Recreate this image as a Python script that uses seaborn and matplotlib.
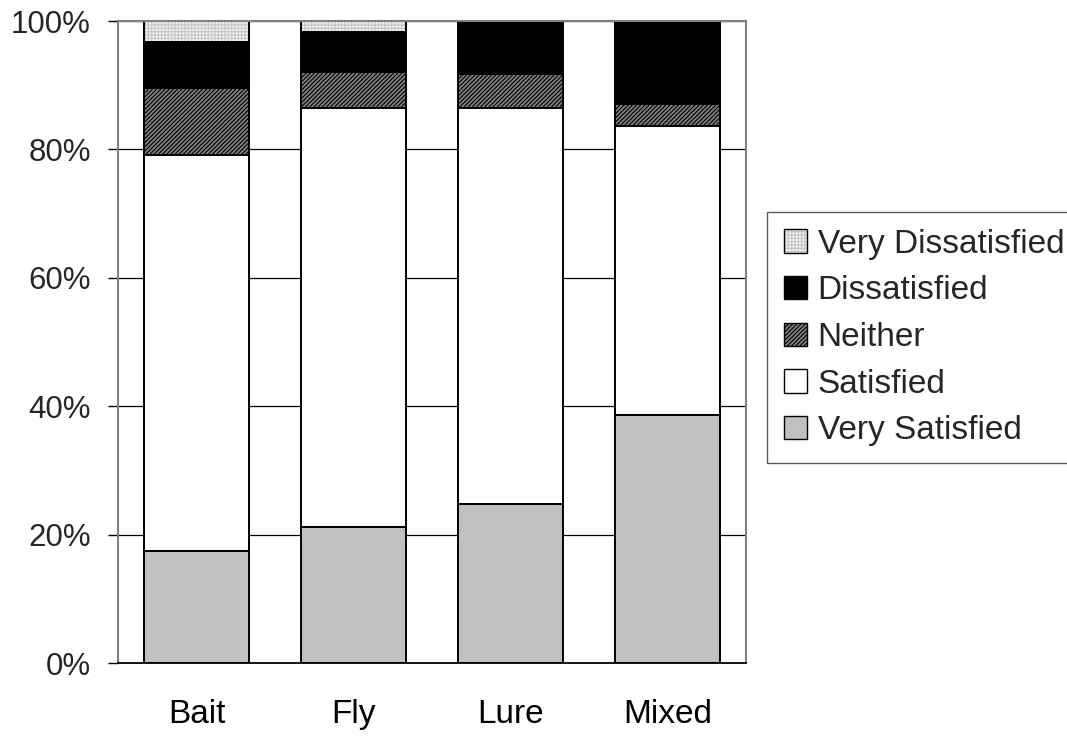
import numpy as np
import matplotlib
matplotlib.use("Agg")
import matplotlib.pyplot as plt
from matplotlib.patches import Patch
from matplotlib.legend_handler import HandlerTuple
import seaborn as sns

# Satisfaction by fishing method (percent of respondents)
categories = ["Bait", "Fly", "Lure", "Mixed"]
very_satisfied = [17.5, 21.2, 24.7, 38.7]
satisfied = [61.6, 65.3, 61.8, 45.0]
neither = [10.5, 5.5, 5.3, 3.4]
dissatisfied = [7.1, 6.3, 8.2, 12.9]
very_dissatisfied = [3.3, 1.7, 0.0, 0.0]

series_names = ["Very Satisfied", "Satisfied", "Neither", "Dissatisfied", "Very Dissatisfied"]
series_values = [very_satisfied, satisfied, neither, dissatisfied, very_dissatisfied]
y_ticks = [0, 20, 40, 60, 80, 100]
y_tick_labels = ["0%", "20%", "40%", "60%", "80%", "100%"]

# fill colour, hatch pattern, hatch colour per series
styles = {
    "Very Satisfied": ("#c0c0c0", None, None),
    "Satisfied": ("#ffffff", None, None),
    "Neither": ("#808080", "////////", "#000000"),
    "Dissatisfied": ("#000000", None, None),
    "Very Dissatisfied": ("#f4f4f4", "+++++", "#c4c4c4"),
}

sns.set_theme(style="white")
plt.rcParams["font.family"] = ["Liberation Sans", "DejaVu Sans"]
plt.rcParams["hatch.linewidth"] = 0.8

fig = plt.figure(figsize=(10.67, 7.37), dpi=100)
ax = fig.add_axes([0.1106, 0.1004, 0.5884, 0.8711])

bar_w = 0.667
bottom = np.zeros(len(categories))
for name, vals in zip(series_names, series_values):
    face, hatch, hcol = styles[name]
    vals = np.asarray(vals, dtype=float)
    # filled body (with hatch where used), then a black outline on top
    sns.barplot(x=categories, y=vals, bottom=bottom, width=bar_w, color=face,
                saturation=1, errorbar=None, ax=ax,
                hatch=hatch, edgecolor=hcol if hatch else "none",
                linewidth=0, zorder=2)
    sns.barplot(x=categories, y=vals, bottom=bottom, width=bar_w, color="black",
                fill=False, saturation=1, errorbar=None, ax=ax,
                linewidth=1.4, zorder=3)
    bottom = bottom + vals

ax.set_xlim(-0.5, len(categories) - 0.5)
ax.set_ylim(0, 100)
ax.set_yticks(y_ticks)
ax.set_yticklabels(y_tick_labels)
ax.yaxis.grid(True, color="black", linewidth=0.9)
ax.xaxis.grid(False)
ax.set_axisbelow(True)

ax.set_xticks(np.arange(-0.5, len(categories), 1.0), minor=True)
ax.tick_params(axis="x", which="major", length=0, pad=26, labelsize=24, colors="black")
ax.tick_params(axis="x", which="minor", length=7.5, width=1.2, color="#808080", direction="out")
ax.tick_params(axis="y", which="major", length=7.5, width=1.0, color="black",
               direction="out", left=True, pad=12, labelsize=22.5)
ax.set_xlabel("")
ax.set_ylabel("")

for side in ["left", "top", "right"]:
    ax.spines[side].set_color("#808080")
    ax.spines[side].set_linewidth(1.5)
ax.spines["bottom"].set_color("black")
ax.spines["bottom"].set_linewidth(1.3)
for s in ax.spines.values():
    s.set_zorder(4)

handles = []
for name in reversed(series_names):
    face, hatch, hcol = styles[name]
    body = Patch(facecolor=face, hatch=hatch, edgecolor=hcol if hatch else "none", linewidth=0)
    outline = Patch(facecolor="none", edgecolor="black", linewidth=1.0)
    handles.append((body, outline))

leg = fig.legend(handles, list(reversed(series_names)), loc="upper left",
                 bbox_to_anchor=(767 / 1067, 1 - 212 / 737), bbox_transform=fig.transFigure,
                 fontsize=24, frameon=True, fancybox=False, shadow=False,
                 handlelength=0.69, handleheight=0.69, handletextpad=0.33,
                 labelspacing=0.47, borderpad=0.5, borderaxespad=0,
                 handler_map={tuple: HandlerTuple(ndivide=1, pad=0)})
leg.get_frame().set_edgecolor("#303030")
leg.get_frame().set_linewidth(1.0)

fig.savefig("out.png", dpi=100, facecolor="white")
